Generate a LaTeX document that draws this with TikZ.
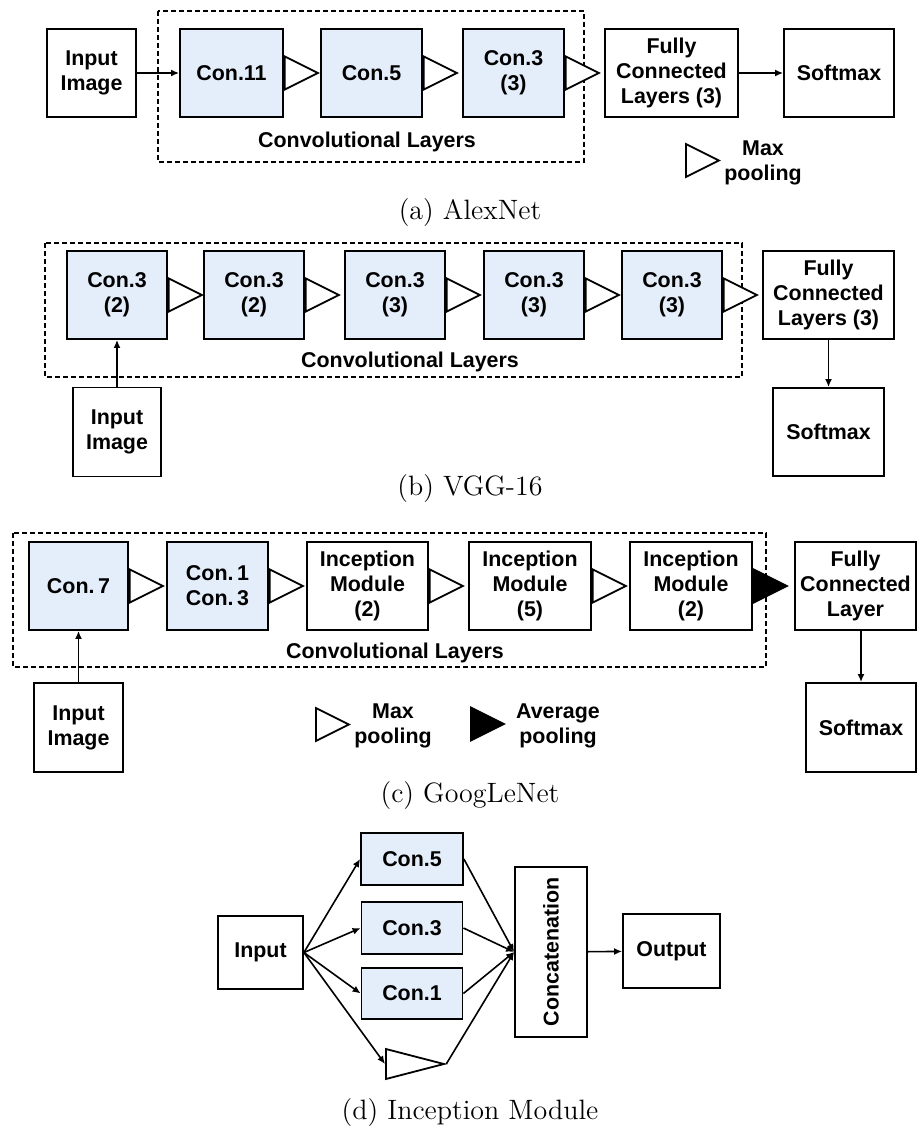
\documentclass[tikz,border=0pt]{standalone}
\usepackage{graphicx}
\usepackage{fontspec}
\setsansfont{Liberation Sans}
\usetikzlibrary{arrows.meta,shapes.geometric}
\definecolor{convblue}{RGB}{228,237,250}
\tikzset{
  blk/.style={draw, line width=0.9pt, align=center, inner sep=1pt, font=\sffamily\bfseries\fontsize{10.7}{12.5}\selectfont},
  cblk/.style={blk, fill=convblue},
  pool/.style={isosceles triangle, isosceles triangle stretches, draw, line width=0.9pt, fill=white, inner sep=0pt, minimum width=16.5pt, minimum height=16.5pt, anchor=west},
  apool/.style={pool, fill=black},
  dbox/.style={line width=0.8pt, dash pattern=on 2.5pt off 1.5pt},
  lbl/.style={font=\sffamily\bfseries\fontsize{10.7}{12.5}\selectfont, align=center},
  captxt/.style={font=\fontsize{14}{16}\selectfont},
  arr/.style={-{Latex[length=4pt,width=3.5pt]}, line width=0.8pt},
}

\begin{document}
\begin{tikzpicture}[x=0.5pt, y=-0.5pt]
  \useasboundingbox (0,0) rectangle (917,1129);

  %% ============================================
  %% (a) AlexNet
  %% ============================================
  \draw[dbox] (158,11) rectangle (584,162);
  \node[blk, minimum width=44.5pt, minimum height=44pt] (inA) at (91.5,73) {Input\\Image};
  \node[cblk, minimum width=51.5pt, minimum height=44pt] (c11) at (231.5,73) {Con.11};
  \node[cblk, minimum width=50.5pt, minimum height=44pt] (c5) at (371.5,73) {Con.5};
  \node[cblk, minimum width=50.5pt, minimum height=44pt] (c3a) at (513.5,73) {Con.3\\(3)};
  \node[blk, minimum width=66.5pt, minimum height=44pt] (fcA) at (671.5,73) {Fully\\Connected\\Layers (3)};
  \node[blk, minimum width=55pt, minimum height=44pt] (smA) at (839,73) {Softmax};

  % pooling between the layers
  \node[pool] (pA1) at (c11.east) {};
  \node[pool] (pA2) at (c5.east) {};
  \node[pool] (pA3) at (c3a.east) {};

  \draw[arr] (inA) -- (c11);
  \draw[arr] (fcA) -- (smA);

  \node[lbl] (convA) at (367,142) {Convolutional Layers};

  % legend
  \node[pool] (legA) at (685,160.5) {};
  \node[lbl] (legAt) at (763,163) {Max\\pooling};

  \node[captxt] (capA) at (470,213) {(a) AlexNet};

  %% ============================================
  %% (b) VGG-16
  %% ============================================
  \draw[dbox] (45,243) rectangle (742,377);
  \node[cblk, minimum width=50pt, minimum height=44pt] (b1) at (117,295) {Con.3\\(2)};
  \node[cblk, minimum width=50pt, minimum height=44pt] (b2) at (254,295) {Con.3\\(2)};
  \node[cblk, minimum width=50pt, minimum height=44pt] (b3) at (395,295) {Con.3\\(3)};
  \node[cblk, minimum width=50pt, minimum height=44pt] (b4) at (534,295) {Con.3\\(3)};
  \node[cblk, minimum width=50pt, minimum height=44pt] (b5) at (672,295) {Con.3\\(3)};
  \node[blk, minimum width=65.5pt, minimum height=44pt] (fcB) at (828.5,295) {Fully\\Connected\\Layers (3)};
  \node[blk, minimum width=55.5pt, minimum height=44pt] (smB) at (828.5,432) {Softmax};
  \node[blk, minimum width=44pt, minimum height=44.5pt] (inB) at (117,432) {Input\\Image};

  \foreach \b in {b1,b2,b3,b4,b5}
    \node[pool] (p\b) at (\b.east) {};

  \draw[arr] (inB) -- (b1);
  \draw[arr] (fcB) -- (smB);

  \node[lbl] (convB) at (410,362) {Convolutional Layers};
  \node[captxt] (capB) at (470,489) {(b) VGG-16};

  %% ============================================
  %% (c) GoogLeNet
  %% ============================================
  \draw[dbox] (13,533) rectangle (766,667);
  \node[cblk, minimum width=49.5pt, minimum height=44pt] (g1) at (78.5,586) {Con.\,7};
  \node[cblk, minimum width=50.5pt, minimum height=44pt] (g2) at (217.5,586) {Con.\,1\\Con.\,3};
  \node[blk, minimum width=60.5pt, minimum height=44pt] (g3) at (367.5,586) {Inception\\Module\\(2)};
  \node[blk, minimum width=61pt, minimum height=44pt] (g4) at (530,586) {Inception\\Module\\(5)};
  \node[blk, minimum width=61pt, minimum height=44pt] (g5) at (691,586) {Inception\\Module\\(2)};
  \node[blk, minimum width=60.5pt, minimum height=44pt] (fcC) at (855.5,586) {Fully\\Connected\\Layer};
  \node[blk, minimum width=55pt, minimum height=44.5pt] (smC) at (861,727.5) {Softmax};
  \node[blk, minimum width=44.5pt, minimum height=44.5pt] (inC) at (78.5,727.5) {Input\\Image};

  \foreach \g in {g1,g2,g3,g4}
    \node[pool] (p\g) at (\g.east) {};
  \node[apool] (pg5) at (g5.east) {};

  \draw[arr] (inC) -- (g1);
  \draw[arr] (fcC.south -| smC.north) -- (smC.north);

  \node[lbl] (convC) at (395,653) {Convolutional Layers};

  % legend
  \node[pool] (legC1) at (315,724.5) {};
  \node[lbl] (legC1t) at (393,726) {Max\\pooling};
  \node[apool] (legC2) at (470,724) {};
  \node[lbl] (legC2t) at (558,726) {Average\\pooling};

  \node[captxt] (capC) at (470,796) {(c) GoogLeNet};

  %% ============================================
  %% (d) Inception Module
  %% ============================================
  \node[blk, minimum width=42.5pt, minimum height=36.5pt] (inD) at (260.5,952.5) {Input};
  \node[cblk, minimum width=51pt, minimum height=26pt] (d5) at (412,859) {Con.5};
  \node[cblk, minimum width=50.5pt, minimum height=26pt] (d3) at (412,928) {Con.3};
  \node[cblk, minimum width=50.5pt, minimum height=25.5pt] (d1) at (412,993.5) {Con.1};
  \node[pool, minimum width=15pt, minimum height=29pt] (dp) at (385,1064) {};
  \node[blk, minimum width=36pt, minimum height=85pt] (cat) at (551,952) {\rotatebox{90}{Concatenation}};
  \node[blk, minimum width=48.5pt, minimum height=37pt] (outD) at (671.5,951) {Output};

  \foreach \d in {d5,d3,d1}
    \draw[arr] (inD.east) -- (\d.west);
  \draw[arr] (inD.east) -- (dp.west);
  \foreach \d in {d5,d3,d1}
    \draw[arr] (\d.east) -- (cat.west);
  \draw[arr] (dp.apex) -- (cat.west);
  \draw[arr] (cat) -- (outD);

  \node[captxt] (capD) at (470,1112) {(d) Inception Module};
\end{tikzpicture}
\end{document}
